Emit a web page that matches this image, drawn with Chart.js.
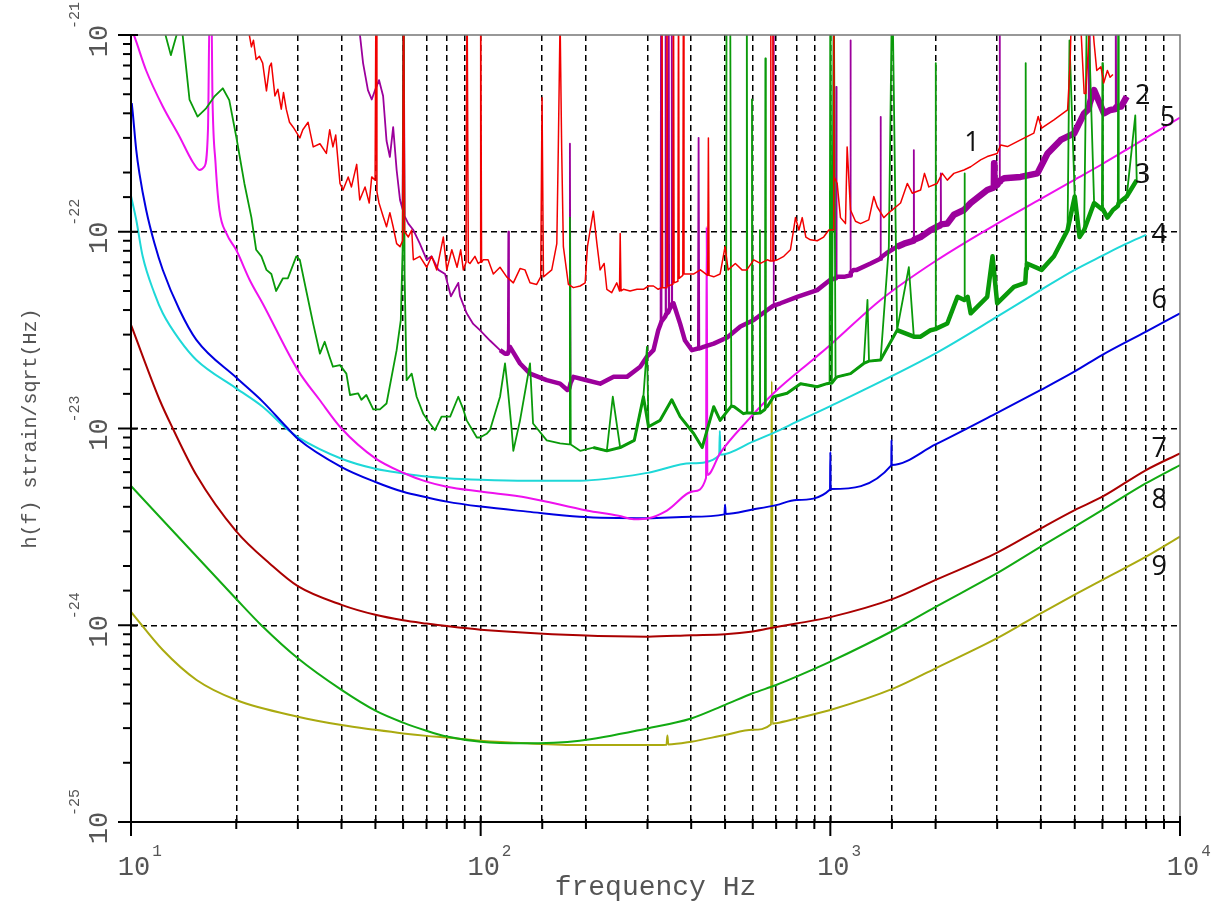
<!DOCTYPE html>
<html>
<head>
<meta charset="utf-8">
<script src="https://cdn.jsdelivr.net/npm/chart.js@4.4.1/dist/chart.umd.min.js"></script>
<style>
  html, body { margin: 0; padding: 0; background: #ffffff; }
  #wrap { width: 1213px; height: 906px; }
</style>
</head>
<body>
<div id="wrap"><canvas id="c" width="1213" height="906"></canvas></div>
<script>
// Strain noise spectra, pairs of [frequency Hz, strain/sqrt(Hz)]

// 1: measured spectrum (red)
const curve1 = [
  [21.8,1.0e-21],[22.1,8.7e-22],[22.4,9.4e-22],[22.8,7.5e-22],[23.3,7.8e-22],[23.8,7.2e-22],[24.4,5.2e-22],[24.9,6.9e-22],
  [25.2,7.2e-22],[25.8,4.9e-22],[26.3,5.3e-22],[26.9,4.2e-22],[27.3,5.1e-22],[27.8,4.2e-22],[28.4,3.6e-22],[29.1,3.4e-22],
  [30.4,3.0e-22],[31.0,3.3e-22],[32.1,3.6e-22],[33.2,2.7e-22],[34.7,2.8e-22],[36.2,2.5e-22],[37.0,3.3e-22],[37.8,2.7e-22],
  [38.5,3.1e-22],[39.6,1.76e-22],[40.4,1.63e-22],[41.8,1.9e-22],[42.7,1.69e-22],[44.2,2.2e-22],[45.1,1.45e-22],[46.7,1.69e-22],
  [48.0,1.4e-22],[48.8,1.9e-22],[49.9,1.83e-22],[50.2,2e-21],[50.5,1.6e-22],[51.2,1.4e-22],[52.6,1.2e-22],[53.8,1.06e-22],
  [55.0,1.25e-22],[56.2,1.06e-22],[57.5,8.7e-23],[58.8,8.4e-23],[59.8,9.0e-23],[60.2,2e-21],[60.6,1.0e-22],[62.1,9.4e-23],
  [63.5,1.02e-22],[64.2,7.2e-23],[67.0,7.5e-23],[70.1,6.6e-23],[72.4,7.5e-23],[74.9,6.4e-23],[78.2,9.4e-23],[80.0,6.4e-23],
  [82.7,8.1e-23],[85.6,6.6e-23],[87.7,8.1e-23],[89.2,6.4e-23],[90.8,7.0e-23],[91.4,2e-21],[92.2,7.0e-23],[93.2,6.9e-23],
  [96.3,7.5e-23],[98.4,6.9e-23],[99.6,7.0e-23],[100.0,2e-21],[100.6,7.0e-23],[101.7,7.2e-23],[105,7.2e-23],[108.7,6.1e-23],
  [113.6,6.6e-23],[118.7,5.9e-23],[124,5.5e-23],[129.6,6.5e-23],[133.9,6.4e-23],[138.4,5.5e-23],[144.6,5.4e-23],[148.5,5.9e-23],
  [149.8,4.8e-22],[151.2,5.9e-23],[159.7,6.4e-23],[165.1,8.7e-23],[166.7,2.6e-22],[168.7,1.2e-21],[170.5,2.6e-22],[172.4,8.4e-23],
  [178.2,5.4e-23],[184.2,5.2e-23],[192.5,5.3e-23],[199,5.5e-23],[202,8.4e-23],[210,1.27e-22],[215,8.7e-23],[219.6,6.4e-23],
  [225.5,6.9e-23],[229.5,5.1e-23],[237,4.9e-23],[245,5.5e-23],[249.5,5.0e-23],[250.6,9.8e-23],[252,5.0e-23],[256,5.1e-23],
  [267.5,5.0e-23],[280,5.1e-23],[292,5.1e-23],[302,5.3e-23],[312,5.3e-23],[322,5.1e-23],[329,5.2e-23],[330,2e-21],
  [331.5,5.2e-23],[339.5,5.2e-23],[341,2e-21],[342.5,5.3e-23],[354.5,5.4e-23],[356,2e-21],[357.5,5.5e-23],[366.5,5.6e-23],
  [368,2e-21],[369.5,5.8e-23],[378.5,6.0e-23],[380,2e-21],[381.5,6.1e-23],[407,6.1e-23],[425,6.4e-23],[446,6.0e-23],
  [448,3.0e-22],[450,6.0e-23],[464,5.9e-23],[484,6.1e-23],[500,8.4e-23],[510,6.4e-23],[535,6.9e-23],[559,6.4e-23],
  [577,6.4e-23],[604,7.2e-23],[631,6.9e-23],[660,7.2e-23],[673.5,7.1e-23],[675,2e-21],[676.5,7.1e-23],[683.5,7.1e-23],
  [685,2e-21],[686.5,7.1e-23],[705,7.2e-23],[736,7.5e-23],[769,8.1e-23],[795,1.18e-22],[813,1.02e-22],[831,1.18e-22],
  [851,9.4e-23],[877,9.1e-23],[917,9.0e-23],[957,9.4e-23],[990,1.02e-22],[1021,1.02e-22],[1023,2e-21],[1025,1.9e-22],
  [1046,1.76e-22],[1069,1.18e-22],[1105,1.1e-22],[1117,2.7e-22],[1142,1.29e-22],[1180,1.13e-22],[1220,1.1e-22],[1288,1.15e-22],
  [1331,1.51e-22],[1361,1.34e-22],[1422,1.18e-22],[1486,1.27e-22],[1588,1.4e-22],[1660,1.76e-22],[1715,1.57e-22],[1812,1.63e-22],
  [1859,1.98e-22],[1913,1.69e-22],[2020,1.76e-22],[2090,1.98e-22],[2160,1.83e-22],[2256,1.98e-22],[2410,2.06e-22],[2520,2.14e-22],
  [2690,2.32e-22],[2810,2.41e-22],[3000,2.5e-22],[3070,2.76e-22],[3210,2.71e-22],[3500,2.93e-22],[3820,3.17e-22],[3930,3.85e-22],
  [4020,3.36e-22],[4360,3.7e-22],[4770,4.16e-22],[4850,7.2e-22],[4900,1.5e-21],[5160,1.5e-21],[5320,5.05e-22],[5380,5.05e-22],
  [5560,1.5e-21],[5680,9.1e-22],[5780,6.6e-22],[5940,6.9e-22],[6050,5.7e-22],[6200,6.6e-22],[6310,6.1e-22],[6430,6.3e-22]
];

// 2: measured spectrum (purple)
const curve2 = [
  [45,1.06e-21],[46.1,7.2e-22],[47.6,5.25e-22],[48.8,4.7e-22],[49.9,5.25e-22],[51.2,5.9e-22],[52.6,4.9e-22],[53.8,2.9e-22],
  [55.0,2.4e-22],[56.2,3.4e-22],[57.5,2.06e-22],[58.8,1.45e-22],[59.8,1.3e-22],[60.2,2e-21],[60.6,1.2e-22],[62.1,1.1e-22],
  [64.2,1.02e-22],[67.0,8.7e-23],[70.1,7.2e-23],[72.4,7.5e-23],[75.7,6.4e-23],[79.1,6.1e-23],[82.2,4.7e-23],[86.3,5.5e-23],
  [87.3,4.7e-23],[91.2,3.85e-23],[95.2,3.4e-23],[99.5,3.16e-23],[106.3,2.8e-23],[113.6,2.5e-23],[117.4,2.4e-23],[119.5,2.4e-23],
  [120,1.0e-22],[120.5,2.5e-23],[121.3,2.6e-23],[129.6,2.14e-23],[138.4,1.9e-23],[154.5,1.76e-23],[168.7,1.69e-23],[177,1.57e-23],
  [179.3,1.6e-23],[180,2.8e-22],[180.7,1.7e-23],[184.2,1.83e-23],[201,1.76e-23],[219.6,1.69e-23],[240,1.83e-23],[262,1.83e-23],
  [286,2.06e-23],[299,2.32e-23],[312,2.5e-23],[322,3.16e-23],[327,3.4e-23],[328,2e-21],[329,3.5e-23],[337,3.7e-23],
  [338,2e-21],[339,3.8e-23],[344,3.9e-23],[345,2e-21],[346,4.0e-23],[351,4.2e-23],[352,2e-21],[353,4.3e-23],
  [356,4.33e-23],[372,3.4e-23],[384,2.8e-23],[402,2.5e-23],[418,2.55e-23],[420,3.0e-22],[422,2.55e-23],[434,2.6e-23],
  [464,2.7e-23],[507,2.9e-23],[553,3.3e-23],[604,3.56e-23],[660,4.0e-23],[686,4.2e-23],[688,2e-21],[690,4.2e-23],
  [720,4.33e-23],[804,4.67e-23],[917,5.05e-23],[1000,5.7e-23],[1038,5.8e-23],[1040,5.45e-22],[1042,5.9e-23],[1093,5.9e-23],
  [1140,6.0e-23],[1142,9.4e-22],[1144,6.2e-23],[1165,6.4e-23],[1190,6.4e-23],[1303,6.9e-23],[1389,7.3e-23],[1392,3.84e-22],
  [1395,7.4e-23],[1450,7.8e-23],[1552,8.4e-23],[1625,8.7e-23],[1730,9.0e-23],[1733,2.6e-22],[1736,9.1e-23],[1812,9.4e-23],
  [1935,1.02e-22],[2020,1.06e-22],[2067,1.08e-22],[2070,1.98e-22],[2073,1.09e-22],[2160,1.1e-22],[2256,1.22e-22],[2410,1.29e-22],
  [2520,1.4e-22],[2810,1.63e-22],[2935,1.68e-22],[2940,2.23e-22],[2945,1.7e-22],[3000,1.73e-22],[3045,1.8e-22],[3050,2e-21],
  [3055,1.82e-22],[3140,1.87e-22],[3500,1.9e-22],[3910,1.98e-22],[4180,2.5e-22],[4560,2.93e-22],[4980,3.16e-22],[5320,4.0e-22],
  [5480,4.2e-22],[5500,2e-21],[5520,4.5e-22],[5680,5.25e-22],[6060,4.0e-22],[6320,4.16e-22],[6530,4.2e-22],[6550,2e-21],
  [6570,4.3e-22],[6790,4.33e-22],[7040,4.86e-22]
];

// 3: measured spectrum (green)
const curve3 = [
  [12.55,1.0e-21],[13.0,7.9e-22],[13.5,1.0e-21],[13.7,1.06e-21],[14.0,1.06e-21],[14.2,8.4e-22],[14.7,4.7e-22],[15.5,3.85e-22],
  [16.4,4.24e-22],[17.3,4.86e-22],[18.3,5.36e-22],[19.1,4.67e-22],[20.0,3.04e-22],[21.1,1.76e-22],[22.1,1.18e-22],[22.8,8.1e-23],
  [23.6,7.5e-23],[24.4,6.4e-23],[25.2,6.1e-23],[26.0,5.0e-23],[27.2,5.8e-23],[28.1,5.8e-23],[29.7,7.5e-23],[30.4,7.2e-23],
  [31.8,4.9e-23],[33.2,3.4e-23],[34.7,2.4e-23],[35.8,2.76e-23],[37.0,2.3e-23],[37.8,2.06e-23],[39.6,2.1e-23],[41.3,1.9e-23],
  [42.3,1.48e-23],[44.6,1.51e-23],[45.6,1.4e-23],[47.1,1.48e-23],[49.3,1.25e-23],[51.5,1.25e-23],[53.8,1.34e-23],[57.5,2.5e-23],
  [59.1,3.56e-23],[59.8,8.0e-23],[60.2,2e-21],[60.6,6.0e-23],[61.4,1.76e-23],[63.5,1.9e-23],[65.6,1.45e-23],[68.5,1.19e-23],
  [71.6,1.06e-23],[74.0,9.8e-24],[77.3,1.15e-23],[81.8,1.15e-23],[86.3,1.45e-23],[89.2,1.25e-23],[91.2,1.1e-23],[97.5,9.0e-24],
  [99.5,9.0e-24],[104,9.4e-24],[106.3,9.8e-24],[113.6,1.45e-23],[117.4,2.14e-23],[119.6,1.58e-23],[122.7,9.8e-24],[124,7.7e-24],
  [129.6,1.1e-23],[138.4,2.14e-23],[141.2,1.06e-23],[154.5,8.7e-24],[168.7,8.4e-24],[179,8.3e-24],[180,1.18e-22],[181,8.3e-24],
  [192.5,7.7e-24],[210,8.0e-24],[229.5,7.7e-24],[238.7,1.45e-23],[250.6,8.0e-24],[275,8.7e-24],[292,1.45e-23],[299,2.6e-23],
  [302,1.02e-23],[326,1.1e-23],[352,1.4e-23],[372,1.15e-23],[407,9.4e-24],[430,8.0e-24],[464,1.29e-23],[484,1.1e-23],
  [503,1.2e-23],[505,2e-21],[510,2e-21],[517,2e-21],[521,1.3e-23],[531,1.29e-23],[564,1.19e-23],[575,1.2e-23],
  [577,2e-21],[579,1.2e-23],[595,1.2e-23],[597,4.7e-22],[599,1.2e-23],[606,1.19e-23],[628,1.2e-23],[629,1.02e-22],
  [630,1.2e-23],[650,1.25e-23],[652,7.6e-22],[654,1.28e-23],[660,1.29e-23],[688,1.45e-23],[752,1.51e-23],[822,1.69e-23],
  [917,1.63e-23],[978,1.69e-23],[995,1.7e-23],[1000,2e-21],[1010,1.7e-23],[1023,2e-21],[1035,1.8e-23],[1046,1.83e-23],
  [1142,1.9e-23],[1246,2.14e-23],[1277,4.5e-23],[1290,2.2e-23],[1392,2.23e-23],[1470,8.4e-23],[1503,2e-21],[1552,3.16e-23],
  [1677,6.6e-23],[1733,2.93e-23],[1812,2.93e-23],[1935,3.16e-23],[1995,3.2e-23],[2000,7.2e-22],[2005,3.2e-23],[2160,3.42e-23],
  [2310,4.67e-23],[2415,4.5e-23],[2420,1.98e-22],[2425,4.5e-23],[2470,4.67e-23],[2520,3.85e-23],[2810,4.67e-23],[2910,7.5e-23],
  [3000,4.33e-23],[3350,5.25e-23],[3610,5.5e-23],[3620,7.2e-22],[3630,6.5e-23],[3650,6.9e-23],[4020,6.4e-23],[4360,7.5e-23],
  [4770,1.02e-22],[4830,9.4e-22],[5000,1.51e-22],[5160,9.4e-23],[5320,1.02e-22],[5430,2e-21],[5680,1.4e-22],[5980,1.3e-22],
  [6000,7.2e-22],[6020,1.3e-22],[6200,1.18e-22],[6430,1.29e-22],[6640,1.35e-22],[6660,2e-21],[6680,1.4e-22],[7040,1.51e-22],
  [7450,3.9e-22],[7520,1.83e-22]
];

// 4: design curve (cyan)
const curve4 = [
  [10,1.52e-22],[10.35,1.15e-22],[10.8,7.5e-23],[11.67,4.86e-23],[12.33,3.85e-23],[13.77,2.82e-23],[15.38,2.23e-23],[20,1.6e-23],
  [23.8,1.29e-23],[27.8,1.0e-23],[30,9.04e-24],[40,7.02e-24],[50,6.24e-24],[60,5.91e-24],[70,5.70e-24],[80,5.59e-24],
  [100,5.49e-24],[136,5.43e-24],[192,5.43e-24],[300,5.95e-24],[400,6.65e-24],[481,7.3e-24],[483,9.7e-24],[485,7.35e-24],
  [600,8.57e-24],[700,9.64e-24],[800,1.08e-23],[1000,1.3e-23],[2000,2.41e-23],[3000,3.70e-23],[4000,5.06e-23],[5000,6.40e-23],
  [6000,7.56e-23],[7000,8.67e-23],[8000,9.64e-23]
];

// 5: design curve (magenta)
const curve5 = [
  [10,1.08e-21],[10.23,9.8e-22],[11.05,6.6e-22],[12.33,4.33e-22],[13.77,3.04e-22],[15.0,2.27e-22],[15.7,2.06e-22],[16.2,2.14e-22],
  [16.6,3.3e-22],[16.8,1.5e-21],[16.97,1.5e-21],[17.1,4.86e-22],[17.45,2.23e-22],[17.9,1.29e-22],[18.75,9.8e-23],[20,8.07e-23],
  [21.85,5.69e-23],[23.8,4.32e-23],[30,1.98e-23],[34.6,1.40e-23],[40,1.0e-23],[50,7.05e-24],[60,5.96e-24],[70,5.37e-24],
  [80,5.06e-24],[100,4.78e-24],[136,4.45e-24],[201,3.83e-24],[248,3.6e-24],[274,3.46e-24],[302,3.5e-24],[341,3.83e-24],
  [407,4.8e-24],[441,5.6e-24],[443,1.06e-22],[445,5.8e-24],[484,7.5e-24],[578,1.09e-23],[688,1.51e-23],[900,2.27e-23],
  [1000,2.66e-23],[1392,4.5e-23],[2000,7.1e-23],[3000,1.1e-22],[4000,1.47e-22],[5000,1.84e-22],[6000,2.21e-22],[7000,2.6e-22],
  [8000,3.0e-22],[10000,3.8e-22]
];

// 6: design curve (blue)
const curve6 = [
  [10.05,4.5e-22],[10.12,4.0e-22],[10.35,2.61e-22],[10.57,1.98e-22],[11.05,1.29e-22],[11.67,8.73e-23],[12.33,6.39e-23],[13.77,4.0e-23],
  [15.38,2.82e-23],[20.1,1.80e-23],[23.8,1.37e-23],[27.8,1.02e-23],[30,8.87e-24],[40,6.37e-24],[50,5.35e-24],[60,4.77e-24],
  [70,4.47e-24],[80,4.25e-24],[100,4.01e-24],[136,3.78e-24],[192,3.56e-24],[300,3.50e-24],[400,3.56e-24],[498,3.66e-24],
  [500,4.1e-24],[502,3.68e-24],[600,3.88e-24],[700,4.08e-24],[800,4.33e-24],[998,4.9e-24],[1000,7.6e-24],[1002,4.92e-24],
  [1494,6.5e-24],[1496,8.75e-24],[1498,6.52e-24],[2000,8.3e-24],[3000,1.2e-23],[4000,1.57e-23],[5000,1.95e-23],[6000,2.37e-23],
  [8000,3.11e-23],[10000,3.85e-23]
];

// 7: design curve (dark red)
const curve7 = [
  [10,3.36e-23],[12.07,1.40e-23],[13.17,1.0e-23],[15.38,5.8e-24],[20,3.0e-24],[25,2.05e-24],[30,1.58e-24],[40,1.27e-24],
  [50,1.13e-24],[60,1.06e-24],[70,1.02e-24],[80,9.9e-25],[100,9.5e-25],[192,8.9e-25],[300,8.75e-25],[400,8.9e-25],
  [500,9.0e-25],[600,9.3e-25],[700,9.8e-25],[800,1.02e-24],[1000,1.10e-24],[1524,1.37e-24],[2000,1.70e-24],[3000,2.34e-24],
  [4000,3.11e-24],[5000,3.85e-24],[6000,4.5e-24],[8000,6.15e-24],[10000,7.48e-24]
];

// 8: design curve (green)
const curve8 = [
  [10,5.1e-24],[20,1.36e-24],[23.8,9.85e-25],[30,6.79e-25],[40,4.69e-25],[50,3.68e-25],[60,3.20e-25],[70,2.91e-25],
  [80,2.72e-25],[100,2.56e-25],[132,2.51e-25],[192,2.59e-25],[300,2.99e-25],[400,3.36e-25],[500,3.94e-25],[600,4.51e-25],
  [700,4.97e-25],[800,5.48e-25],[1000,6.53e-25],[1524,9.46e-25],[2000,1.24e-24],[3000,1.84e-24],[4000,2.51e-24],[5000,3.17e-24],
  [6000,3.86e-24],[8000,5.27e-24],[10000,6.52e-24]
];

// 9: design curve (olive)
const curve9 = [
  [10,1.17e-24],[12.33,7.48e-25],[15.4,5.27e-25],[20,4.17e-25],[30,3.43e-25],[40,3.11e-25],[50,2.94e-25],[60,2.82e-25],
  [70,2.74e-25],[80,2.69e-25],[100,2.59e-25],[136,2.51e-25],[192,2.46e-25],[300,2.46e-25],[340,2.47e-25],[342,2.75e-25],
  [344,2.48e-25],[400,2.56e-25],[500,2.77e-25],[600,2.94e-25],[677,3.14e-25],[679,1.73e-23],[681,1.73e-23],[683,3.16e-25],
  [700,3.18e-25],[800,3.36e-25],[1000,3.71e-25],[1524,4.79e-25],[2000,6.04e-25],[3000,8.59e-25],[4000,1.15e-24],[5000,1.43e-24],
  [6000,1.70e-24],[8000,2.23e-24],[10000,2.82e-24]
];

// Curve number tags and where they sit, [frequency Hz, strain]
const tagText = ['1','2','3','4','5','6','7','8','9'];
const tagAt = [
  [2540,2.81e-22],[7820,4.86e-22],[7820,1.94e-22],[8720,9.63e-23],[9210,3.77e-22],
  [8720,4.5e-23],[8720,7.88e-24],[8720,4.31e-24],[8720,1.97e-24]
];

// Decade tick labels
const xDecades = [10, 100, 1000, 10000];
const xDecadeExp = ['1', '2', '3', '4'];
const yDecades = [1e-21, 1e-22, 1e-23, 1e-24, 1e-25];
const yDecadeExp = ['-21', '-22', '-23', '-24', '-25'];

const xTitle = 'frequency Hz';
const yTitle = 'h(f) strain/sqrt(Hz)';

const isDecade = v => Math.abs(Math.log10(v) - Math.round(Math.log10(v))) < 1e-6;
const toPts = arr => arr.map(p => ({x: p[0], y: p[1]}));

// Floor of a noisy trace: the same samples with the narrow lines left out,
// drawn wide underneath the thin trace to give it its band look.
const floorOf = (arr, fromHz) => arr.filter((p, i) => {
  if (p[0] < fromHz || p[1] >= 1e-21) return false;
  const prev = arr[i - 1], next = arr[i + 1];
  const lo = Math.min(prev ? prev[1] : p[1], next ? next[1] : p[1]);
  return p[1] <= 1.8 * lo;
});

const series = [
  {data: curve1, color: '#f20000', width: 1.5, order: 0, smooth: false},
  {data: curve3, color: '#0a9a0a', width: 1.8, order: 1, smooth: false},
  {data: floorOf(curve3, 200), color: '#0a9a0a', width: 3, order: 2, smooth: false},
  {data: floorOf(curve3, 1500), color: '#0a9a0a', width: 4.5, order: 3, smooth: false},
  {data: curve2, color: '#9c009c', width: 1.8, order: 4, smooth: false},
  {data: floorOf(curve2, 110), color: '#9c009c', width: 4.5, order: 5, smooth: false},
  {data: floorOf(curve2, 1500), color: '#9c009c', width: 6.5, order: 6, smooth: false},
  {data: curve5, color: '#ee11ee', width: 2,   order: 7, smooth: true},
  {data: curve6, color: '#0000e0', width: 2,   order: 8, smooth: true},
  {data: curve4, color: '#1ed8d8', width: 2,   order: 9, smooth: true},
  {data: curve7, color: '#aa0000', width: 2,   order: 10, smooth: true},
  {data: curve8, color: '#12aa12', width: 2,   order: 11, smooth: true},
  {data: curve9, color: '#aaaa10', width: 2,   order: 12, smooth: true}
];

const decor = {
  id: 'decor',
  afterDraw(chart) {
    const {ctx, chartArea: a, scales: {x, y}} = chart;
    ctx.save();
    ctx.lineCap = 'butt';
    ctx.setLineDash([]);

    // plot frame
    ctx.strokeStyle = '#777';
    ctx.lineWidth = 1.5;
    ctx.beginPath();
    ctx.moveTo(a.left, a.top); ctx.lineTo(a.right, a.top); ctx.lineTo(a.right, a.bottom);
    ctx.stroke();
    ctx.strokeStyle = '#000';
    ctx.lineWidth = 2;
    ctx.beginPath();
    ctx.moveTo(a.left, a.top); ctx.lineTo(a.left, a.bottom); ctx.lineTo(a.right, a.bottom);
    ctx.stroke();

    // tick marks
    x.ticks.forEach(t => {
      const px = x.getPixelForValue(t.value);
      const major = isDecade(t.value);
      ctx.beginPath();
      ctx.moveTo(px, a.bottom - (major ? 6 : 3));
      ctx.lineTo(px, a.bottom + (major ? 14 : 7));
      ctx.stroke();
    });
    y.ticks.forEach(t => {
      const py = y.getPixelForValue(t.value);
      const major = isDecade(t.value);
      ctx.beginPath();
      ctx.moveTo(a.left - (major ? 13 : 8), py);
      ctx.lineTo(a.left + (major ? 7 : 0), py);
      ctx.stroke();
    });

    // x decade labels
    ctx.fillStyle = '#555';
    ctx.textBaseline = 'alphabetic';
    xDecades.forEach((v, i) => {
      const px = x.getPixelForValue(v);
      ctx.font = '27px "Liberation Mono", monospace';
      ctx.textAlign = 'center';
      ctx.fillText('10', px + 3, a.bottom + 53);
      const w = ctx.measureText('10').width;
      ctx.font = '16px "Liberation Mono", monospace';
      ctx.textAlign = 'left';
      ctx.fillText(xDecadeExp[i], px + 3 + w / 2 + 2, a.bottom + 34);
    });

    // y decade labels, rotated
    yDecades.forEach((v, i) => {
      const py = y.getPixelForValue(v);
      ctx.save();
      ctx.translate(a.left - 24, py);
      ctx.rotate(-Math.PI / 2);
      ctx.font = '27px "Liberation Mono", monospace';
      ctx.textAlign = 'center';
      ctx.fillText('10', -6, 0);
      ctx.font = '15px "Liberation Mono", monospace';
      ctx.textAlign = 'left';
      ctx.fillText(yDecadeExp[i], 6, -28);
      ctx.restore();
    });

    // axis titles
    ctx.font = '28px "Liberation Mono", monospace';
    ctx.textAlign = 'center';
    ctx.fillText(xTitle, (a.left + a.right) / 2, 895);
    ctx.save();
    ctx.translate(36, (a.top + a.bottom) / 2);
    ctx.rotate(-Math.PI / 2);
    ctx.font = '20px "Liberation Mono", monospace';
    ctx.fillText(yTitle, 0, 0);
    ctx.restore();

    // curve numbers
    ctx.fillStyle = '#111';
    ctx.font = '27px "Open Sans", "Liberation Sans", sans-serif';
    ctx.textAlign = 'center';
    ctx.textBaseline = 'middle';
    tagAt.forEach((p, i) => {
      ctx.fillText(tagText[i], x.getPixelForValue(p[0]), y.getPixelForValue(p[1]));
    });
    ctx.restore();
  }
};

new Chart(document.getElementById('c'), {
  type: 'line',
  data: {
    datasets: series.map(s => ({
      data: toPts(s.data),
      borderColor: s.color,
      backgroundColor: s.color,
      borderWidth: s.width,
      pointRadius: 0,
      fill: false,
      order: s.order,
      clip: 0,
      tension: s.smooth ? 0.4 : 0,
      cubicInterpolationMode: s.smooth ? 'monotone' : 'default'
    }))
  },
  options: {
    responsive: false,
    animation: false,
    devicePixelRatio: 1,
    layout: {padding: {left: 131, right: 33, top: 35, bottom: 84}},
    plugins: {legend: {display: false}, tooltip: {enabled: false}, title: {display: false}},
    elements: {line: {borderJoinStyle: 'round', borderCapStyle: 'butt'}},
    scales: {
      x: {
        type: 'logarithmic', min: 10, max: 10000, position: 'bottom',
        ticks: {display: false},
        border: {display: false, dash: [6, 4]},
        grid: {
          drawTicks: false, lineWidth: 1.5,
          color: c => (c.tick && c.tick.value > 10.001 && c.tick.value < 9999) ? '#000' : 'rgba(0,0,0,0)'
        },
        afterFit: s => { s.height = 0; }
      },
      y: {
        type: 'logarithmic', min: 1e-25, max: 1e-21, position: 'left',
        ticks: {display: false},
        border: {display: false, dash: [6, 4]},
        grid: {
          drawTicks: false, lineWidth: 1.5,
          color: c => {
            if (!c.tick) return 'rgba(0,0,0,0)';
            const v = c.tick.value;
            return (isDecade(v) && v < 9e-22 && v > 1.1e-25) ? '#000' : 'rgba(0,0,0,0)';
          }
        },
        afterFit: s => { s.width = 0; }
      }
    }
  },
  plugins: [decor]
});
</script>
</body>
</html>
